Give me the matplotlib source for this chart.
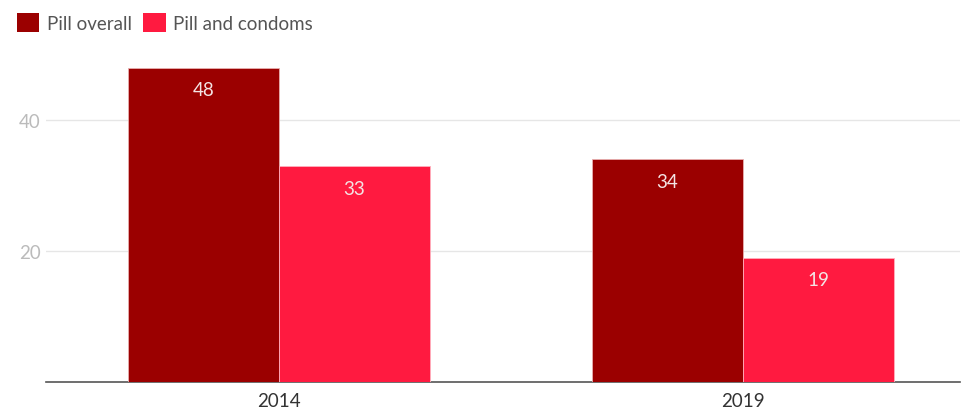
import matplotlib.pyplot as plt
import numpy as np
from matplotlib.patches import Patch

# Данные
years = ['2014', '2019']
pill_overall = [48, 34]
pill_condoms = [33, 19]
series_names = ['Pill overall', 'Pill and condoms']
colors = ['#9b0000', '#ff1a40']

plt.rcParams['font.family'] = ['Lato', 'DejaVu Sans']

fig = plt.figure(figsize=(9.7, 4.14), dpi=100)
ax = fig.add_axes([0.0474, 0.0749, 0.9423, 0.791])

x = np.arange(len(years))
w = 0.325
b1 = ax.bar(x - w / 2, pill_overall, width=w, color=colors[0], edgecolor='#e8b0b0', linewidth=0.6, zorder=3)
b2 = ax.bar(x + w / 2, pill_condoms, width=w, color=colors[1], edgecolor='#ffb0bd', linewidth=0.6, zorder=3)

# Подписи значений внутри столбцов
for bars in (b1, b2):
    for rect in bars:
        h = rect.get_height()
        ax.annotate(f'{h:g}', (rect.get_x() + rect.get_width() / 2, h),
                    xytext=(0, -16), textcoords='offset points',
                    ha='center', va='center', color='#f4e4e4', fontsize=13.5, zorder=4)

ax.set_xlim(-0.502, 1.468)
ax.set_ylim(0, 50)
ax.set_xticks(x)
ax.set_xticklabels(years)
ax.set_yticks([20, 40])
ax.tick_params(axis='x', length=0, labelsize=13.5, labelcolor='#333333', pad=7)
ax.tick_params(axis='y', length=0, labelsize=13.5, labelcolor='#bbbbbb', pad=4)
ax.grid(axis='y', color='#e6e6e6', linewidth=1, zorder=0)

for s in ['top', 'right', 'left']:
    ax.spines[s].set_visible(False)
ax.spines['bottom'].set_color('#555555')
ax.spines['bottom'].set_linewidth(1.2)

# Легенда
handles = [Patch(facecolor=c, edgecolor='none') for c in colors]
fig.legend(handles, series_names, loc='upper left', bbox_to_anchor=(0.0, 1.008),
           ncol=2, frameon=False, fontsize=13.5, labelcolor='#555555',
           handlelength=1.2, handleheight=1.2, handletextpad=0.4, columnspacing=0.6)

plt.savefig('out.png')
plt.close()
